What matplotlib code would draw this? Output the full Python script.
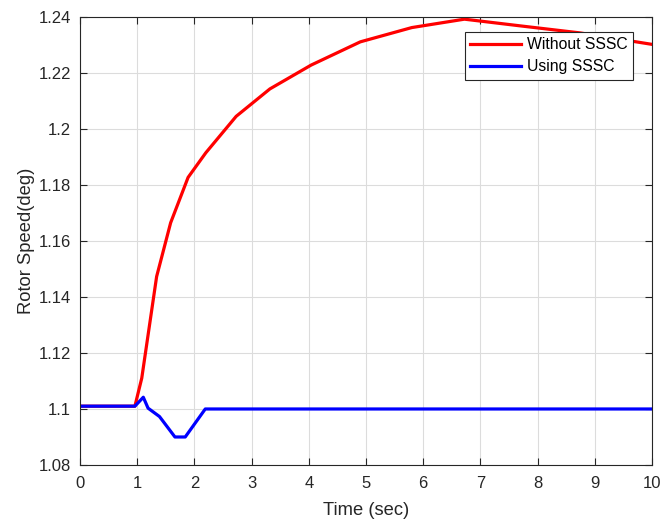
import matplotlib.pyplot as plt
from matplotlib.ticker import FuncFormatter

# rotor speed response, without and with SSSC
t_without = [0, 0.96, 1.08, 1.34, 1.585, 1.89, 2.2, 2.73, 3.32, 4.04, 4.9, 5.8, 6.72, 7.7, 8.74, 10]
w_without = [1.101, 1.101, 1.111, 1.1473, 1.1665, 1.1827, 1.1915, 1.2045, 1.2143, 1.2228, 1.2311, 1.2362, 1.2392, 1.2368, 1.2343, 1.2302]

t_sssc = [0, 0.96, 1.107, 1.19, 1.39, 1.66, 1.84, 2.19, 10]
w_sssc = [1.101, 1.101, 1.1042, 1.1003, 1.0973, 1.09, 1.09, 1.1, 1.1]

plt.rcParams['font.family'] = ['Liberation Sans', 'DejaVu Sans']

fig = plt.figure(figsize=(6.62, 5.21), dpi=100)
ax = fig.add_axes([0.1208, 0.1075, 0.8642, 0.86])

ax.plot(t_without, w_without, color='#ff0000', lw=2.3, label='Without SSSC')
ax.plot(t_sssc, w_sssc, color='#0000ff', lw=2.3, label='Using SSSC')

ax.set_xlim(0, 10)
ax.set_ylim(1.08, 1.24)
ax.set_xticks(range(0, 11))
ax.set_yticks([1.08 + 0.02 * i for i in range(9)])
ax.yaxis.set_major_formatter(FuncFormatter(lambda v, p: '%g' % round(v, 2)))

ax.grid(True, color='#dcdcdc', lw=0.8)
ax.tick_params(direction='in', top=True, right=True, labelsize=12, colors='#262626', length=5)
ax.tick_params(axis='y', pad=6.5)
ax.tick_params(axis='x', pad=8)
for s in ax.spines.values():
    s.set_color('#262626')
    s.set_linewidth(0.8)

ax.set_xlabel('Time (sec)', fontsize=13.2, color='#262626', labelpad=8)
ax.set_ylabel('Rotor Speed(deg)', fontsize=13.2, color='#262626', labelpad=2.5)

leg = ax.legend(loc='upper right', bbox_to_anchor=(0.9668, 0.9665), borderaxespad=0,
                fontsize=11.3, fancybox=False, framealpha=1, edgecolor='#262626',
                handlelength=3.25, borderpad=0.35, labelspacing=0.45, handletextpad=0.35)
leg.get_frame().set_linewidth(0.8)

plt.savefig('out.png', dpi=100)
